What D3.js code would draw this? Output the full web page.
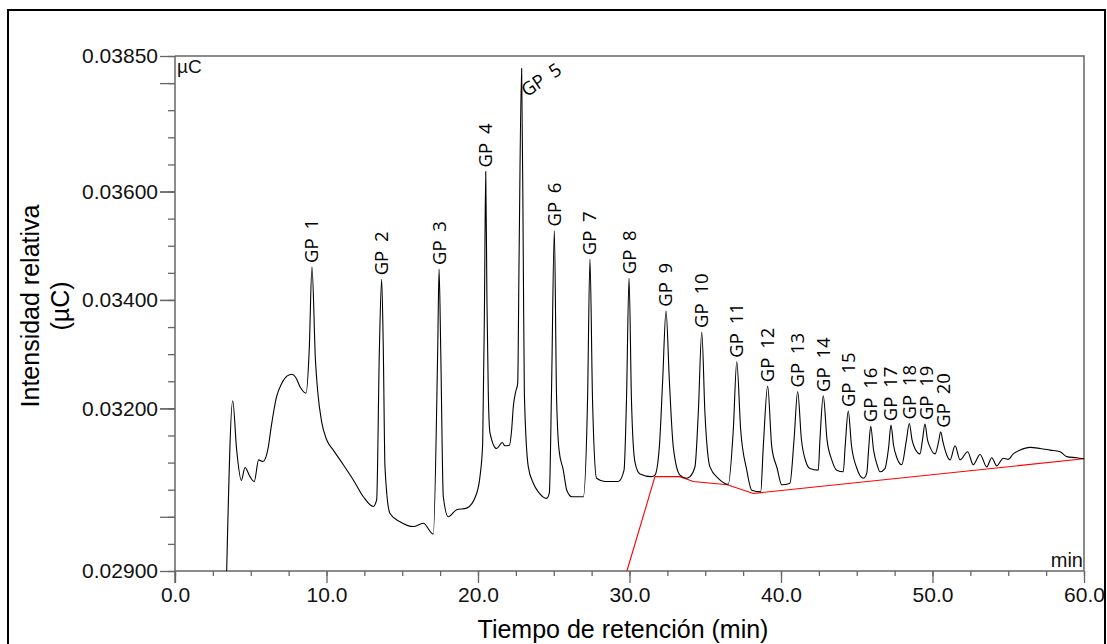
<!DOCTYPE html>
<html>
<head>
<meta charset="utf-8">
<title>Cromatograma GP</title>
<script src="https://cdn.jsdelivr.net/npm/d3@7"></script>
<style>
  body { margin: 0; background: #fff; }
  text { font-family: "Liberation Sans", Arial, sans-serif; }
</style>
</head>
<body>
<svg id="chart"></svg>
<script>
    // retention time (min), signal (µC)
    let chromatogram = [
        [3.41, 0.02900], [3.81, 0.03214], [4.07, 0.03123], [4.38, 0.03067], [4.62, 0.03091],
        [4.95, 0.03074], [5.23, 0.03065], [5.52, 0.03105], [5.81, 0.03102], [6.16, 0.03129],
        [6.34, 0.03164], [6.71, 0.03222], [7.04, 0.03246], [7.41, 0.03260], [7.72, 0.03263],
        [7.97, 0.03257], [8.25, 0.03240], [8.65, 0.03228], [8.86, 0.03308], [9.04, 0.03461],
        [9.27, 0.03289], [9.41, 0.03234], [9.68, 0.03175], [10.01, 0.03142], [10.45, 0.03123],
        [11.11, 0.03096], [11.77, 0.03068], [12.43, 0.03037], [13.09, 0.03019], [13.31, 0.03031],
        [13.49, 0.03308], [13.64, 0.03438], [13.75, 0.03308], [13.86, 0.03092], [14.19, 0.03006],
        [14.85, 0.02991], [15.73, 0.02982], [16.39, 0.02988], [17.05, 0.02968], [17.34, 0.03308],
        [17.43, 0.03457], [17.54, 0.03308], [17.71, 0.03037], [18.04, 0.03000], [18.59, 0.03013],
        [19.25, 0.03016], [19.91, 0.03043], [20.13, 0.03074], [20.31, 0.03136], [20.43, 0.03400],
        [20.51, 0.03637], [20.59, 0.03400], [20.68, 0.03228], [20.79, 0.03155], [21.23, 0.03126],
        [21.60, 0.03137], [21.78, 0.03131], [22.07, 0.03132], [22.22, 0.03160], [22.33, 0.03203],
        [22.49, 0.03231], [22.62, 0.03246], [22.71, 0.03474], [22.88, 0.03827], [22.99, 0.03474],
        [23.06, 0.03228], [23.32, 0.03092], [23.65, 0.03062], [23.98, 0.03046], [24.53, 0.03034],
        [24.71, 0.03044], [24.85, 0.03228], [25.04, 0.03528], [25.18, 0.03228], [25.35, 0.03123],
        [25.63, 0.03086], [25.86, 0.03049], [26.20, 0.03037], [26.95, 0.03037], [27.23, 0.03215],
        [27.39, 0.03475], [27.56, 0.03215], [27.83, 0.03071], [28.38, 0.03065], [29.26, 0.03065],
        [29.64, 0.03086], [29.80, 0.03215], [29.97, 0.03440], [30.13, 0.03215], [30.36, 0.03101],
        [30.69, 0.03079], [31.46, 0.03074], [31.68, 0.03077], [31.97, 0.03129], [32.19, 0.03252],
        [32.41, 0.03380], [32.63, 0.03252], [32.89, 0.03129], [33.33, 0.03077], [33.78, 0.03071],
        [33.99, 0.03074], [34.32, 0.03092], [34.54, 0.03191], [34.77, 0.03341], [34.98, 0.03191],
        [35.31, 0.03092], [35.86, 0.03071], [36.52, 0.03060], [36.85, 0.03160], [37.08, 0.03286],
        [37.34, 0.03160], [37.74, 0.03086], [38.07, 0.03049], [38.66, 0.03046], [38.83, 0.03129],
        [39.12, 0.03241], [39.39, 0.03129], [39.74, 0.03090], [40.05, 0.03059], [40.59, 0.03062],
        [40.86, 0.03142], [41.10, 0.03231], [41.35, 0.03142], [41.65, 0.03101], [41.91, 0.03089],
        [42.46, 0.03086], [42.57, 0.03142], [42.79, 0.03223], [43.04, 0.03142], [43.35, 0.03105],
        [43.68, 0.03086], [44.11, 0.03083], [44.24, 0.03132], [44.44, 0.03195], [44.65, 0.03132],
        [45.00, 0.03090], [45.43, 0.03071], [45.66, 0.03080], [45.78, 0.03123], [45.92, 0.03167],
        [46.11, 0.03123], [46.34, 0.03096], [46.53, 0.03083], [46.86, 0.03089], [47.10, 0.03127],
        [47.26, 0.03169], [47.43, 0.03132], [47.66, 0.03108], [47.97, 0.03096], [48.28, 0.03142],
        [48.47, 0.03172], [48.65, 0.03142], [48.84, 0.03126], [49.17, 0.03116], [49.34, 0.03142],
        [49.50, 0.03171], [49.67, 0.03142], [49.83, 0.03129], [50.17, 0.03116], [50.40, 0.03138],
        [50.54, 0.03157], [50.69, 0.03138], [50.94, 0.03114], [51.16, 0.03105], [51.49, 0.03131],
        [51.82, 0.03105], [52.32, 0.03120], [52.69, 0.03096], [53.14, 0.03115], [53.58, 0.03092],
        [53.91, 0.03109], [54.24, 0.03094], [54.67, 0.03108], [55.00, 0.03106], [55.33, 0.03116],
        [55.78, 0.03123], [56.44, 0.03128], [57.10, 0.03126], [57.76, 0.03123], [58.42, 0.03120],
        [58.86, 0.03111], [59.52, 0.03109], [60.00, 0.03107]
    ];

    // integration baseline (red)
    let baselinePts = [
        [29.83, 0.02900], [31.68, 0.03074], [33.33, 0.03074], [34.21, 0.03065],
        [36.46, 0.03059], [38.17, 0.03043], [60.00, 0.03107]
    ];

    let gpNames = ["GP 1", "GP 2", "GP 3", "GP 4", "GP 5", "GP 6", "GP 7", "GP 8", "GP 9", "GP 10",
        "GP 11", "GP 12", "GP 13", "GP 14", "GP 15", "GP 16", "GP 17", "GP 18", "GP 19", "GP 20"];
    let gpTimes = [9.04, 13.64, 17.43, 20.51, 22.88, 25.04, 27.39, 29.97, 32.41, 34.77,
        37.08, 39.12, 41.10, 42.79, 44.44, 45.92, 47.26, 48.47, 49.50, 50.54];

    let xMajorTicks = [0, 10, 20, 30, 40, 50, 60];
    let yLabelTicks = [0.029, 0.032, 0.034, 0.036, 0.0385];
    let yLongTicks = [0.030, 0.032, 0.034, 0.036, 0.038];

    let W = 1107, H = 644;
    let plot = { left: 175, top: 56, right: 1084, bottom: 571 };
    let axisColor = "#666";

    let svg = d3.select("#chart").attr("width", W).attr("height", H);

    // outer frame
    svg.append("rect")
        .attr("x", 8).attr("y", 10).attr("width", 1097).attr("height", 660)
        .attr("fill", "none").attr("stroke", "#000").attr("stroke-width", 2);

    let xScale = d3.scaleLinear().domain([0, 60]).range([plot.left, plot.right]);
    let yScale = d3.scaleLinear().domain([0.029, 0.0385]).range([plot.bottom, plot.top]);

    // plot frame (top / right)
    svg.append("path")
        .attr("d", "M" + plot.left + "," + plot.top + "H" + plot.right + "V" + plot.bottom)
        .attr("fill", "none").attr("stroke", axisColor).attr("stroke-width", 1.5);

    function styleAxis(g) {
        g.select(".domain").remove();
        g.selectAll(".tick line").attr("stroke", axisColor).attr("stroke-width", 1.3);
        g.selectAll(".tick text").attr("fill", "#111")
            .style("font-family", "'Liberation Sans', Arial, sans-serif")
            .style("font-size", "21px");
    }

    // y axis
    let yMinor = d3.range(58, 78).map(i => i * 0.0005);
    svg.append("g").attr("transform", "translate(" + plot.left + ",0)")
        .call(d3.axisLeft(yScale).tickValues(yMinor).tickSize(7).tickFormat(""))
        .call(styleAxis);
    svg.append("g").attr("transform", "translate(" + plot.left + ",0)")
        .call(d3.axisLeft(yScale).tickValues(yLongTicks).tickSize(15).tickFormat(""))
        .call(styleAxis);
    svg.append("g").attr("transform", "translate(" + plot.left + ",0)")
        .call(d3.axisLeft(yScale).tickValues(yLabelTicks).tickSize(15).tickPadding(2).tickFormat(d3.format(".5f")))
        .call(styleAxis);
    svg.append("line")
        .attr("x1", plot.left).attr("x2", plot.left)
        .attr("y1", plot.top).attr("y2", plot.bottom + 12)
        .attr("stroke", axisColor).attr("stroke-width", 1.5);

    // x axis
    let xMinor = d3.range(0, 25).map(i => i * 2.5);
    svg.append("g").attr("transform", "translate(0," + plot.bottom + ")")
        .call(d3.axisBottom(xScale).tickValues(xMinor).tickSize(5).tickFormat(""))
        .call(styleAxis);
    svg.append("g").attr("transform", "translate(0," + plot.bottom + ")")
        .call(d3.axisBottom(xScale).tickValues(xMajorTicks).tickSize(12).tickPadding(4).tickFormat(d3.format(".1f")))
        .call(styleAxis);
    svg.append("line")
        .attr("x1", plot.left).attr("x2", plot.right)
        .attr("y1", plot.bottom).attr("y2", plot.bottom)
        .attr("stroke", axisColor).attr("stroke-width", 1.5);

    // unit labels inside the frame
    svg.append("text").attr("x", plot.left + 2).attr("y", plot.top + 17)
        .style("font-size", "19px").attr("fill", "#111").text("µC");
    svg.append("text").attr("x", plot.right - 1).attr("y", plot.bottom - 4)
        .attr("text-anchor", "end").style("font-size", "20px").attr("fill", "#111").text("min");

    // axis titles
    svg.append("text").attr("x", 623).attr("y", 638).attr("text-anchor", "middle")
        .style("font-size", "25px").attr("fill", "#000").text("Tiempo de retención (min)");
    let yTitle = svg.append("text").attr("transform", "translate(0,306) rotate(-90)")
        .attr("text-anchor", "middle").style("font-size", "25px").attr("fill", "#000");
    yTitle.append("tspan").attr("x", 0).attr("y", 39).text("Intensidad relativa");
    yTitle.append("tspan").attr("x", 0).attr("y", 69).text("(µC)");

    // curves
    let line = d3.line()
        .x(d => xScale(d[0]))
        .y(d => yScale(d[1]))
        .curve(d3.curveMonotoneX);

    svg.append("path").datum(baselinePts)
        .attr("d", d3.line().x(d => xScale(d[0])).y(d => yScale(d[1])))
        .attr("fill", "none").attr("stroke", "#ff0000").attr("stroke-width", 1.1);

    svg.append("path").datum(chromatogram)
        .attr("d", line)
        .attr("fill", "none").attr("stroke", "#000").attr("stroke-width", 1.1);

    // peak labels
    let labelFont = "'Open Sans', 'DejaVu Sans', sans-serif";
    let prevX = -Infinity;
    gpNames.forEach(function (name, i) {
        let t = gpTimes[i];
        let near = chromatogram.filter(d => Math.abs(d[0] - t) < 0.1);
        let top = d3.max(near, d => d[1]);
        let px = xScale(t), py = yScale(top);
        let lx = Math.max(px, prevX + 17);
        prevX = lx;
        let g = svg.append("text")
            .style("font-family", labelFont).style("font-size", "18.5px")
            .style("word-spacing", "4px").attr("fill", "#000")
            .text(name);
        if (py - 48 < plot.top) {
            // no room above the peak: tilt the label beside it
            g.attr("transform", "translate(" + (px + 5) + "," + (py + 29) + ") rotate(-34)");
        } else {
            g.attr("transform", "translate(" + lx + "," + (py - 4) + ") rotate(-90)")
                .attr("dy", "0.35em");
        }
    });
</script>
</body>
</html>
